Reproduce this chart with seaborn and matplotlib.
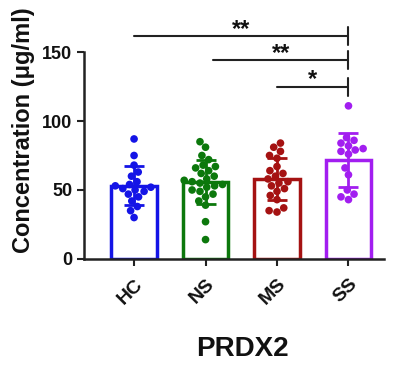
import numpy as np
import pandas as pd
import matplotlib
matplotlib.use("Agg")
import matplotlib.pyplot as plt
import seaborn as sns

groups = ['HC', 'NS', 'MS', 'SS']
colors = ['#1414e6', '#0c780c', '#a51212', '#a21ef0']

hc = [87, 75, 68, 63, 60, 56, 54, 53, 52, 51, 50, 49, 47, 45, 42, 38, 35, 30]
ns = [85, 81, 75, 72, 68, 67, 66, 64, 62, 60, 58, 57, 56, 55, 54, 53, 52, 50, 49, 47, 45, 42, 39, 27, 14]
ms = [84, 81, 78, 75, 73, 67, 64, 62, 60, 58, 56, 55, 53, 51, 49, 46, 43, 37, 35, 34]
ss = [111, 88, 86, 84, 82, 80, 79, 78, 76, 66, 61, 50, 47, 45, 43]

# significance brackets: (from group, to group, label)
comparisons = [(0, 3, '**'), (1.1, 3, '**'), (2, 3, '*')]

df = pd.DataFrame({
    'group': ['HC'] * len(hc) + ['NS'] * len(ns) + ['MS'] * len(ms) + ['SS'] * len(ss),
    'value': hc + ns + ms + ss,
})

sns.set_style('ticks')
plt.rcParams['font.family'] = ['Liberation Sans', 'DejaVu Sans']
plt.rcParams['font.weight'] = 'bold'
plt.rcParams['text.color'] = '#111111'
plt.rcParams['xtick.color'] = '#111111'
plt.rcParams['ytick.color'] = '#111111'
plt.rcParams['axes.labelcolor'] = '#111111'

fig = plt.figure(figsize=(4.04, 3.72), dpi=100)
ax = fig.add_axes([0.208, 0.304, 0.743, 0.556])

pal = dict(zip(groups, colors))
sns.barplot(data=df, x='group', y='value', hue='group', order=groups, palette=pal,
            errorbar=None, fill=False, linewidth=2.5, width=0.64, saturation=1,
            legend=False, ax=ax)

# mean +/- SD error bars in the group colour
for i, g in enumerate(groups):
    v = df.loc[df['group'] == g, 'value']
    ax.errorbar(i, v.mean(), yerr=v.std(), color=pal[g], capsize=7.5,
                elinewidth=2, capthick=2, zorder=3)

sns.swarmplot(data=df, x='group', y='value', hue='group', order=groups, palette=pal,
              size=5.5, legend=False, ax=ax, zorder=4)

# brackets
tops = [161.5, 144, 125]
for (a, b, lab), h in zip(comparisons, tops):
    ax.plot([a, b], [h, h], color='#222222', lw=1.5, clip_on=False)
    ax.plot([b, b], [h - 6.5, h + 6.5], color='#222222', lw=1.5, clip_on=False)
    ax.text((a + b) / 2, h + 0.5, lab, ha='center', va='baseline', fontsize=17,
            fontweight='bold', color='#111111')

ax.set_ylim(0, 150)
ax.set_yticks([0, 50, 100, 150])
ax.set_xlim(-0.7, 3.5)
ax.set_xlabel('PRDX2', fontsize=20, fontweight='bold', va='top')
ax.xaxis.set_label_coords(0.527, -0.375)
ax.set_ylabel('Concentration (μg/ml)', fontsize=17, fontweight='bold')
ax.yaxis.set_label_coords(-0.165, 0.62)
ax.tick_params(axis='y', labelsize=13, width=1.5, length=5, color='#222222')
ax.tick_params(axis='x', labelsize=14, width=1.5, length=5, color='#222222', pad=7)
plt.setp(ax.get_xticklabels(), rotation=45, ha='right', rotation_mode='anchor')
for s in ['left', 'bottom']:
    ax.spines[s].set_linewidth(1.8)
    ax.spines[s].set_color('#222222')
sns.despine(ax=ax)

fig.savefig('out.png', dpi=100)
